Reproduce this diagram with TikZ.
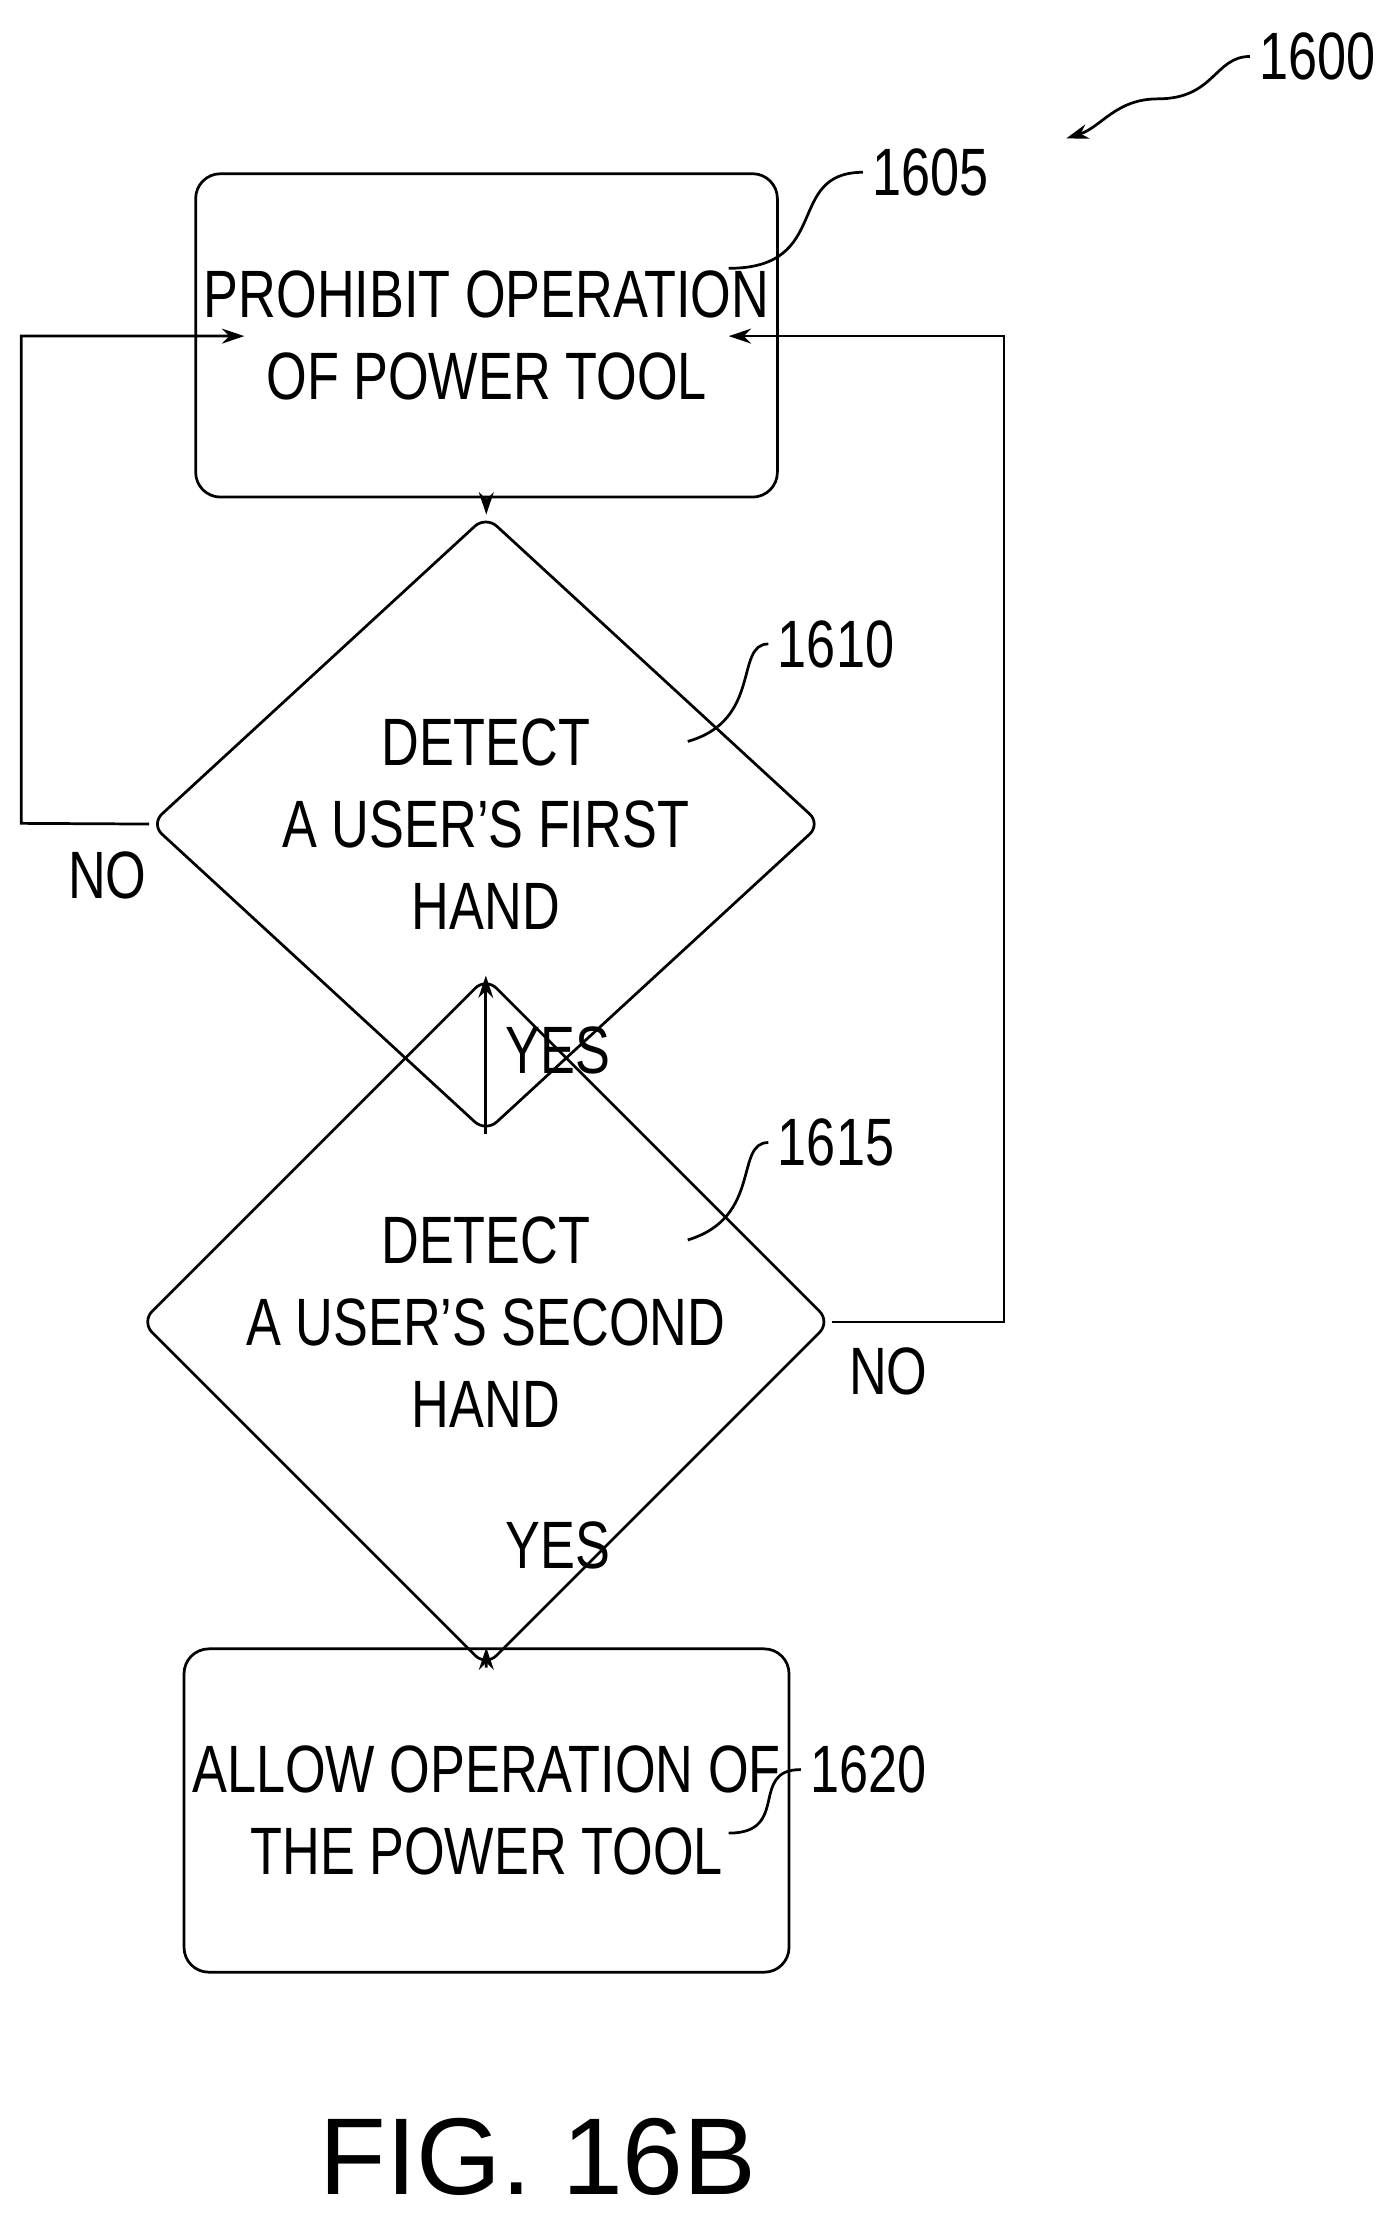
\documentclass[tikz,border=0pt]{standalone}
\usepackage{fontspec}
\setmainfont{Liberation Sans}[FakeStretch=0.78]
\newfontfamily\figfont{Liberation Sans}
\usetikzlibrary{arrows.meta, positioning, shapes.geometric}

\begin{document}
\begin{tikzpicture}[x=0.02cm, y=-0.02cm, line width=1.1pt, >={Stealth[length=9pt,width=6pt]}]
    \tikzstyle{action box}=[draw, rounded corners=10pt, minimum width=6.86cm, minimum height=4.58cm, align=center, font=\fontsize{27}{33}\selectfont]
    \tikzstyle{test}=[draw, diamond, rounded corners=6pt, minimum width=9.5cm, minimum height=4.86cm, inner sep=0pt, align=center, font=\fontsize{27}{33}\selectfont]
    \tikzstyle{tag}=[font=\fontsize{27}{33}\selectfont]
    \useasboundingbox (0,0) rectangle (975,1567);

    % Steps and tests
    \node[action box] (prohibit) at (344.5,237.5) {PROHIBIT OPERATION\\OF POWER TOOL};
    \node[test] (first) at (344,583.5) {DETECT\\A USER'S FIRST\\HAND};
    \node[test] (second) at (344,936) {DETECT\\A USER'S SECOND\\HAND};
    \node[action box] (allow) at (344.5,1282) {ALLOW OPERATION OF\\THE POWER TOOL};

    % Flow
    \draw[->] (prohibit) -- (first);
    \draw[->] (first) -- (second);
    \draw[->] (second) -- (allow);
    \coordinate (lcorner) at (15,583);
    \coordinate (rcorner) at (711,936);
    \draw[->] (first.west) -- (lcorner) |- (173,238);
    \draw[->] (second.east) -- (rcorner) |- (516,238);
    \node[tag] (no1) at (76,620) {NO};
    \node[tag] (no2) at (629,971) {NO};
    \node[tag] (yes1) at (395,744) {YES};
    \node[tag] (yes2) at (395,1094) {YES};

    % Reference numerals
    \node[tag] (n1605) at (659,122) {1605};
    \node[tag] (n1610) at (592,456) {1610};
    \node[tag] (n1615) at (592,809) {1615};
    \node[tag] (n1620) at (615,1253) {1620};
    \node[tag] (n1600) at (933,40) {1600};
    \draw (516,190) .. controls (590,190) and (555,122) .. (n1605.west);
    \draw (487,525) .. controls (540,510) and (520,456) .. (n1610.west);
    \draw (487,878) .. controls (540,862) and (520,809) .. (n1615.west);
    \draw (516,1298) .. controls (560,1298) and (530,1253) .. (n1620.west);
    \draw[->] (n1600.west) .. controls (860,40) and (860,70) .. (820,70) .. controls (790,70) and (780,90) .. (755,98);

    \node[font=\figfont\fontsize{44}{50}\selectfont] (fig) at (381,1527) {FIG. 16B};
\end{tikzpicture}
\end{document}
